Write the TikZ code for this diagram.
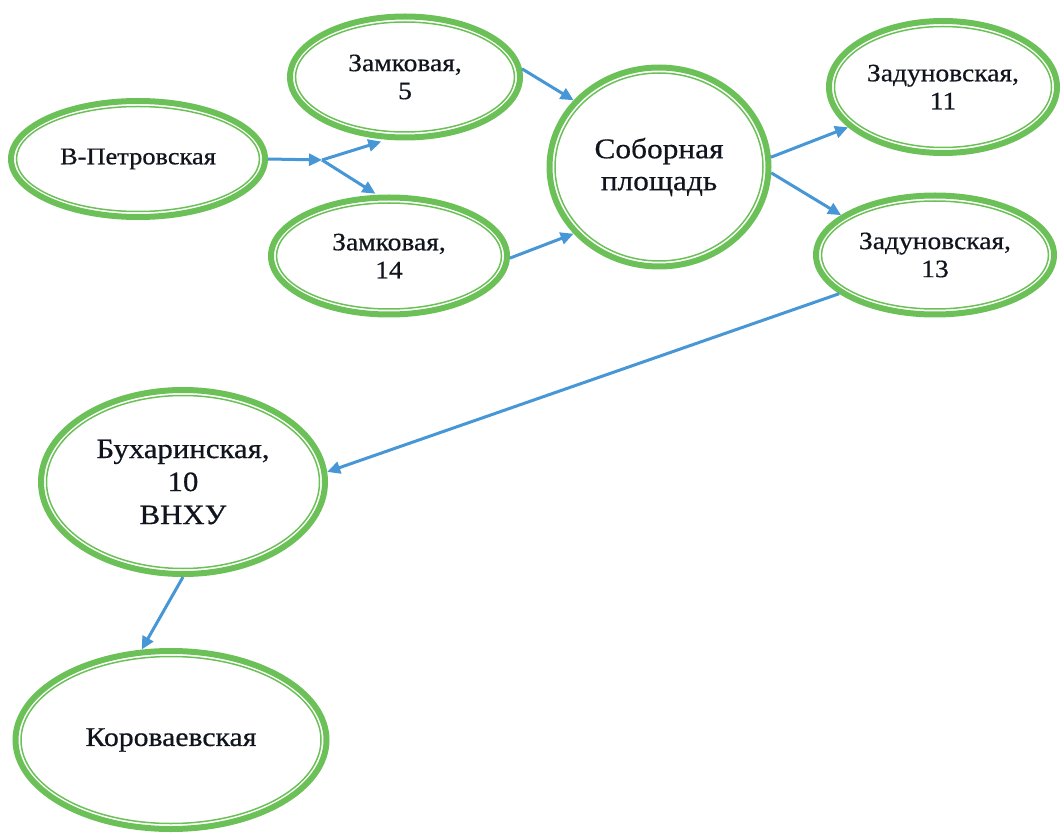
\documentclass[tikz,border=0pt]{standalone}
\usepackage{fontspec}
\setmainfont{Liberation Serif}[FakeStretch=1.1,FakeBold=0.6]
\usetikzlibrary{arrows.meta,shapes.geometric}
\definecolor{stgreen}{RGB}{108,192,88}
\definecolor{arblue}{RGB}{71,150,214}
\definecolor{txtcol}{RGB}{16,20,28}
\tikzset{
  station/.style={ellipse, draw=stgreen, line width=6pt, inner sep=0pt, align=center, text=txtcol},
  innerring/.style={draw=stgreen, line width=1.5pt},
  link/.style={draw=arblue, line width=3pt, -{Triangle[length=13pt,width=12pt]}}
}
% name, x, y, w, h, font, text
\newcommand\stn[7]{%
  \node[station, minimum width=#4-6, minimum height=#5-6, font=#6] (#1) at (#2,#3) {#7};
  \draw[innerring] (#1.center) ellipse [x radius=#4/2-8.5, y radius=#5/2-8.5];
}
\begin{document}
\begin{tikzpicture}[x=1pt,y=-1pt]
\useasboundingbox (0,0) rectangle (1063,834);
\stn{vp}{138}{159}{260}{122}{\fontsize{24}{28}\selectfont}{В-Петровская}
\stn{z5}{405}{77}{236}{127}{\fontsize{25}{28}\selectfont}{Замковая,\\5}
\stn{z14}{389}{256}{242}{123}{\fontsize{25}{28}\selectfont}{Замковая,\\14}
\stn{sob}{659}{167}{225}{205}{\fontsize{28.5}{32}\selectfont}{Соборная\\площадь}
\stn{z11}{943}{87}{234}{138}{\fontsize{25}{28}\selectfont}{Задуновская,\\11}
\stn{z13}{935}{255}{244}{125}{\fontsize{25}{28}\selectfont}{Задуновская,\\13}
\stn{bux}{183}{482}{290}{190}{\fontsize{28}{33}\selectfont}{Бухаринская,\\10\\ВНХУ}
\stn{kor}{171}{740}{317}{184}{\fontsize{27}{32}\selectfont}{Короваевская}
\coordinate (J) at (322,160);
\draw[link] (vp.east) -- (J);
\draw[link, shorten >=6pt] (J) -- (z5.-106);
\draw[link, shorten >=2pt] (J) -- (z14.101);
\draw[link] (z5.4) -- (sob.142);
\draw[link] (z14.-1) -- (sob.-142);
\draw[link] (sob.5) -- (z11.-157);
\draw[link] (sob.-3) -- (z13.157);
\draw[link] (z13.-158) -- (bux.4);
\draw[link] (bux.south) -- (kor.108);
\end{tikzpicture}
\end{document}
